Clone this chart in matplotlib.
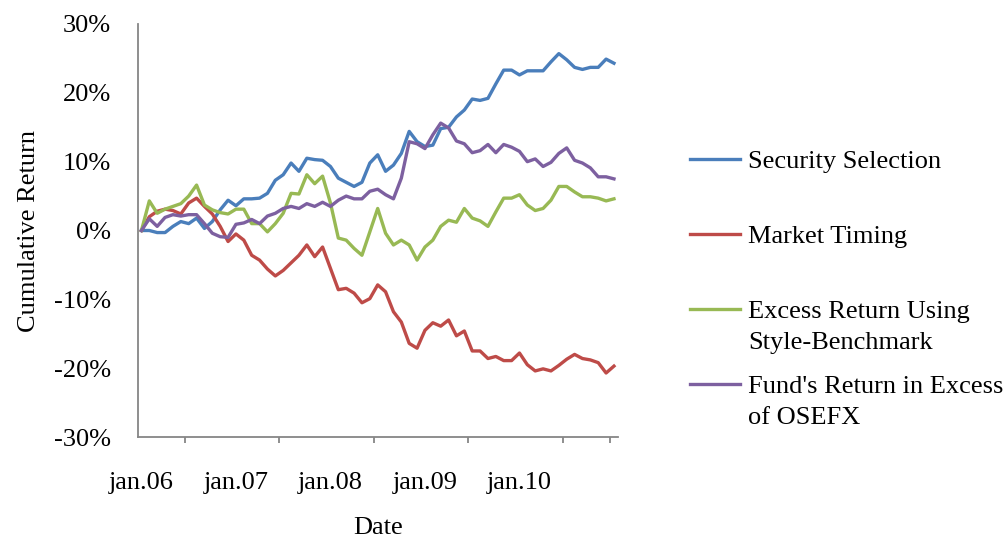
import numpy as np
import matplotlib
matplotlib.use("Agg")
import matplotlib.pyplot as plt
from matplotlib.text import Annotation

# ======================================
# DATA (cumulative return, %, monthly from jan.06)
# ======================================
security_selection = [0, 0, -0.3, -0.3, 0.6, 1.3, 1.0, 1.8, 0.3, 1.3,
                      3.0, 4.4, 3.6, 4.6, 4.6, 4.7, 5.4, 7.3, 8.1, 9.8,
                      8.6, 10.5, 10.3, 10.2, 9.3, 7.6, 7.0, 6.4, 7.0, 9.8,
                      11.0, 8.6, 9.5, 11.2, 14.4, 12.9, 12.2, 12.4, 14.8, 15.0,
                      16.5, 17.5, 19.1, 18.9, 19.2, 21.3, 23.3, 23.3, 22.6, 23.2,
                      23.2, 23.2, 24.5, 25.7, 24.8, 23.7, 23.4, 23.7, 23.7, 24.9,
                      24.3]
market_timing = [0, 2.0, 2.8, 3.1, 2.9, 2.4, 4.0, 4.7, 3.5, 2.4,
                 0.6, -1.6, -0.5, -1.4, -3.6, -4.3, -5.6, -6.6, -5.8, -4.7,
                 -3.6, -2.1, -3.8, -2.4, -5.5, -8.6, -8.4, -9.1, -10.5, -9.9,
                 -7.9, -8.9, -11.8, -13.3, -16.4, -17.1, -14.5, -13.4, -13.9, -13.0,
                 -15.3, -14.6, -17.5, -17.5, -18.6, -18.3, -18.9, -18.9, -17.8, -19.5,
                 -20.4, -20.1, -20.4, -19.6, -18.7, -18.0, -18.6, -18.8, -19.2, -20.7,
                 -19.7]
excess_style = [0, 4.3, 2.5, 3.1, 3.5, 3.9, 5.0, 6.6, 3.7, 3.0,
                2.6, 2.4, 3.1, 3.1, 1.0, 1.0, -0.2, 1.0, 2.5, 5.4,
                5.3, 8.1, 6.8, 7.9, 4.0, -1.1, -1.4, -2.6, -3.6, -0.2,
                3.2, -0.4, -2.1, -1.4, -2.1, -4.3, -2.4, -1.4, 0.6, 1.5,
                1.2, 3.2, 1.8, 1.4, 0.6, 2.7, 4.7, 4.7, 5.2, 3.7,
                2.9, 3.2, 4.4, 6.4, 6.4, 5.6, 4.9, 4.9, 4.7, 4.3,
                4.6]
excess_osefx = [0, 1.7, 0.6, 1.9, 2.3, 2.1, 2.3, 2.3, 1.0, -0.4,
                -0.9, -1.0, 0.9, 1.1, 1.6, 1.0, 2.1, 2.5, 3.2, 3.5,
                3.2, 3.9, 3.5, 4.1, 3.5, 4.4, 5.0, 4.6, 4.6, 5.7,
                6.0, 5.2, 4.6, 7.6, 12.9, 12.6, 11.9, 13.9, 15.6, 14.9,
                13.0, 12.6, 11.3, 11.6, 12.5, 11.3, 12.5, 12.1, 11.5, 10.0,
                10.4, 9.3, 9.9, 11.2, 12.0, 10.2, 9.8, 9.1, 7.8, 7.8,
                7.5]

series_labels = ["Security Selection", "Market Timing",
                 "Excess Return Using", "Fund's Return in Excess"]
second_lines = ["", "", "Style-Benchmark", "of OSEFX"]
colors = ["#4A7EBB", "#BE4B48", "#98B954", "#7D60A0"]

tick_labels = ["jan.06", "jan.07", "jan.08", "jan.09", "jan.10"]

# ======================================
# PLOT
# ======================================
plt.rcParams["font.family"] = ["Liberation Serif", "DejaVu Serif"]
FS = 19

fig = plt.figure(figsize=(10.05, 5.42), dpi=100)
ax = fig.add_axes([137.5 / 1005, 1 - 437 / 542, (617.9 - 137.5) / 1005, (437 - 24) / 542])

x = np.arange(len(security_selection))
all_series = [security_selection, market_timing, excess_style, excess_osefx]
handles = []
for vals, col, lab in zip(all_series, colors, series_labels):
    h, = ax.plot(x, vals, color=col, lw=2.4, label=lab, solid_joinstyle="round",
                 clip_on=False)
    handles.append(h)

ax.set_xlim(-0.5, len(x) - 0.5)
ax.set_ylim(-30, 30)
ax.set_yticks(np.arange(-30, 31, 10))
ax.set_yticklabels([f"{v}%" for v in range(-30, 31, 10)])
ax.set_xticks(np.arange(0, 49, 12))
ax.set_xticklabels(tick_labels)
ax.set_xticks(list(np.arange(5.5, 60, 12)) + [59.5], minor=True)

for s in ["top", "right"]:
    ax.spines[s].set_visible(False)
for s in ["left", "bottom"]:
    ax.spines[s].set_color("#868686")
    ax.spines[s].set_linewidth(1.3)

ax.tick_params(axis="y", length=0, pad=19, labelsize=FS)
ax.tick_params(axis="x", which="major", length=0, pad=25, labelsize=FS)
ax.tick_params(axis="x", which="minor", length=4, width=1.3, color="#868686", direction="out")

ax.set_xlabel("Date", fontsize=FS, labelpad=17)
ax.set_ylabel("Cumulative Return", fontsize=FS, labelpad=10)

leg = fig.legend(handles, series_labels, loc="upper left",
                 bbox_to_anchor=(690 / 1005, 1 - 150 / 542),
                 frameon=False, fontsize=FS, borderpad=0, borderaxespad=0,
                 handlelength=1.9, handletextpad=0.3, labelspacing=1.95)

# second lines of the wrapped legend labels, hung under the first line
for txt, extra in zip(leg.get_texts(), second_lines):
    if extra:
        ann = Annotation(extra, xy=(0, 1), xycoords=txt, xytext=(0, -22.3),
                         textcoords="offset points", va="top", ha="left",
                         fontsize=FS, annotation_clip=False, zorder=6)
        fig.add_artist(ann)

fig.canvas.draw()
fig.savefig("out.png", dpi=100)
